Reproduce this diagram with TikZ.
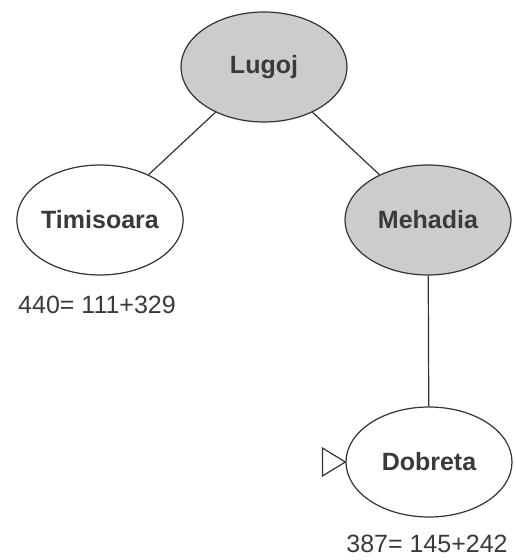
\documentclass[tikz,border=0pt]{standalone}
\usepackage{fontspec}
\setmainfont{Liberation Sans}
\usepackage{xcolor}
\usetikzlibrary{positioning, shapes.geometric}

\definecolor{linegray}{HTML}{333333}
\definecolor{textgray}{HTML}{3A3A3A}
\definecolor{expandedgray}{HTML}{CCCCCC}

\begin{document}
\begin{tikzpicture}[
  x=1pt, y=-1pt,
  city/.style={ellipse, draw=linegray, line width=1.2pt, fill=white,
    minimum width=166pt, minimum height=110pt, inner sep=0pt,
    font=\fontsize{25}{30}\selectfont\bfseries, text=textgray},
  expanded/.style={fill=expandedgray},
  cost/.style={inner sep=0pt, font=\fontsize{25}{30}\selectfont, text=textgray},
  edge/.style={draw=linegray, line width=1.2pt}
]
\useasboundingbox (0,0) rectangle (515,560);

\node[city, expanded] (lugoj) at (264,67) {Lugoj};
\node[city] (timisoara) at (100,220) {Timisoara};
\node[city, expanded] (mehadia) at (428,220) {Mehadia};
\node[city] (dobreta) at (429,462) {Dobreta};

\node[cost] (costT) at (97,305) {440= 111+329};
\node[cost] (costD) at (427,544) {387= 145+242};

\draw[edge] (lugoj) -- (timisoara);
\draw[edge] (lugoj) -- (mehadia);
\draw[edge] (mehadia) -- (dobreta);

% current node marker
\draw[edge, fill=white] (dobreta.west) -- ++(-23,-14) -- ++(0,28) -- cycle;

\end{tikzpicture}
\end{document}
